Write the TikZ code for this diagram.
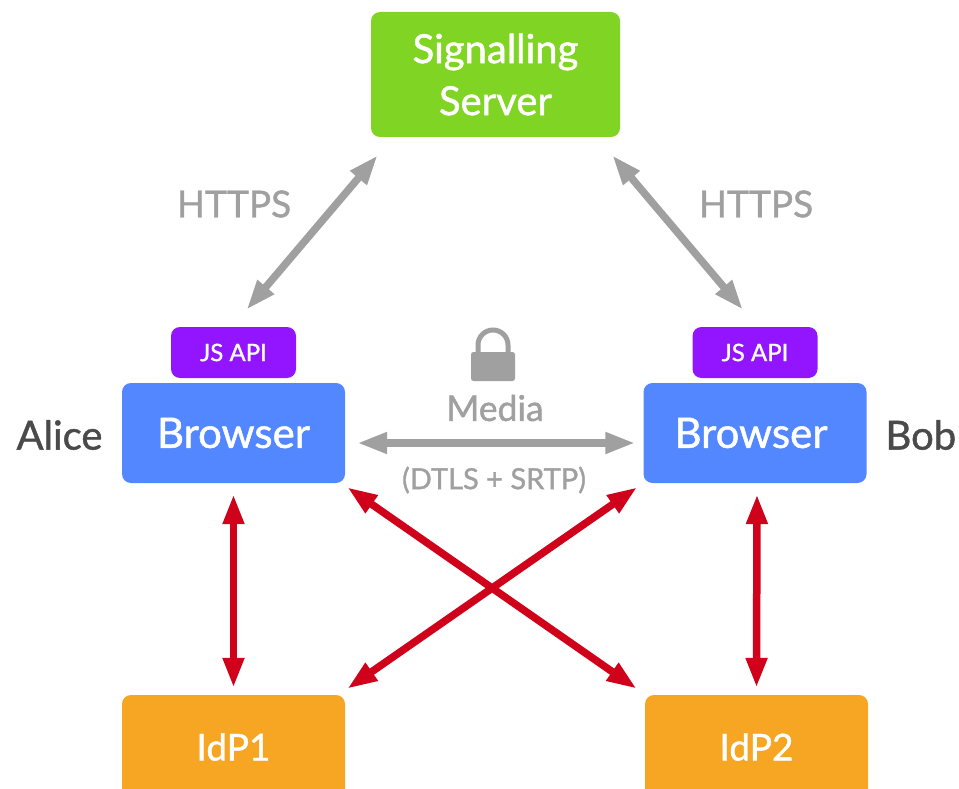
\documentclass[tikz,border=0pt]{standalone}
\usepackage{fontspec}
\setmainfont{Lato}[RawFeature={embolden=1.2}]
\usetikzlibrary{arrows.meta}
\definecolor{cgreen}{HTML}{80D424}
\definecolor{cblue}{HTML}{5387FF}
\definecolor{cpurple}{HTML}{9315FF}
\definecolor{corange}{HTML}{F6A623}
\definecolor{cgray}{HTML}{A0A0A0}
\definecolor{cred}{HTML}{D0021B}
\definecolor{cdark}{HTML}{4A4A4A}
\tikzset{
  x=1pt,y=-1pt,
  box/.style={rounded corners=9pt,inner sep=0pt,align=center,text=white,font=\fontsize{40}{52}\selectfont},
  browserbox/.style={box,fill=cblue,minimum width=223pt,minimum height=100pt,font=\fontsize{42}{48}\selectfont},
  idpbox/.style={box,fill=corange,minimum width=223pt,minimum height=104pt,font=\fontsize{37}{48}\selectfont},
  jsbox/.style={box,fill=cpurple,minimum width=125pt,minimum height=51pt,font=\fontsize{24}{28}\selectfont},
  grayarrow/.style={draw=cgray,line width=7.5pt,{Triangle[length=30pt,width=20pt]}-{Triangle[length=30pt,width=20pt]}},
  redarrow/.style={draw=cred,line width=7.5pt,{Triangle[length=30pt,width=20pt]}-{Triangle[length=30pt,width=20pt]}},
  graytext/.style={text=cgray,font=\fontsize{37}{40}\selectfont},
  person/.style={text=cdark,font=\fontsize{40}{44}\selectfont},
}
\begin{document}
\begin{tikzpicture}
\useasboundingbox (0,0) rectangle (959,789);
\clip (0,0) rectangle (959,789);
\node[box,fill=cgreen,minimum width=249pt,minimum height=125pt] (server) at (495.5,74.5) {Signalling\\Server};
\node[jsbox] (jsL) at (233.5,352.5) {JS API};
\node[jsbox] (jsR) at (755,352.5) {JS API};
\node[browserbox] (brL) at (233.5,433) {Browser};
\node[browserbox] (brR) at (755,433) {\kern-8pt Browser};
\node[idpbox] (idpL) at (233.5,747) {IdP1};
\node[idpbox] (idpR) at (756.5,747) {IdP2};
\node[person,anchor=east] (alice) at (106,435) {Alice};
\node[person,anchor=west] (bob) at (882,435) {Bob};
\node[graytext] (h1) at (234,204) {HTTPS};
\node[graytext] (h2) at (756,204) {HTTPS};
\node[graytext,font=\fontsize{35.5}{40}\selectfont] (media) at (495,408) {Media};
\node[text=cgray,font=\fontsize{29}{32}\selectfont] (dtls) at (494,480) {(DTLS + SRTP)};
% padlock
\fill[cgray,rounded corners=2.5pt] (471,352) rectangle (515,381);
\draw[cgray,line width=5pt] (478,354) -- (478,345) arc[start angle=180,end angle=360,radius=15] -- (508,354);
% connectors
\draw[grayarrow] ([shift={(7,18)}]server.south west) -- ([shift={(13,-17)}]jsL.north);
\draw[grayarrow] ([shift={(-8,18)}]server.south east) -- ([shift={(-12,-17)}]jsR.north);
\draw[grayarrow] ([shift={(12,10)}]brL.east) -- ([shift={(-8,10)}]brR.west);
\draw[redarrow] ([yshift=-11pt]brL.south) -- ([yshift=7pt]idpL.north);
\draw[redarrow] ([shift={(2,11)}]brR.south) -- ([yshift=7pt]idpR.north);
\draw[redarrow] ([shift={(2,4)}]brL.south east) -- ([shift={(-8,-6)}]idpR.north west);
\draw[redarrow] ([shift={(-6,4)}]brR.south west) -- ([shift={(2,-6)}]idpL.north east);
\end{tikzpicture}
\end{document}
